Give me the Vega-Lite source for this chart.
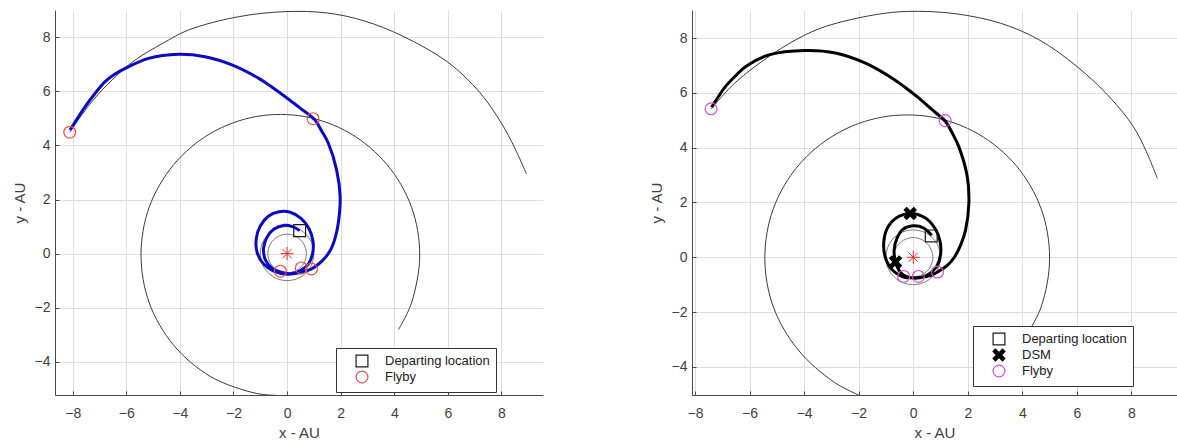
{
  "$schema": "https://vega.github.io/schema/vega-lite/v6.json",
  "padding": {"left": 12, "top": 10, "right": 0, "bottom": 0},
  "background": "#ffffff",
  "spacing": 106,
  "datasets": {
    "leftArcs": [
      {"o": "saturn", "i": 0, "x": -8.11, "y": 4.49}, {"o": "saturn", "i": 1, "x": -7.3, "y": 5.6}, {"o": "saturn", "i": 2, "x": -6.5, "y": 6.45}, {"o": "saturn", "i": 3, "x": -5.67, "y": 7.16}, {"o": "saturn", "i": 4, "x": -4.6, "y": 7.8}, {"o": "saturn", "i": 5, "x": -3.68, "y": 8.27}, {"o": "saturn", "i": 6, "x": -1.82, "y": 8.76}, {"o": "saturn", "i": 7, "x": -0.07, "y": 8.95}, {"o": "saturn", "i": 8, "x": 1.5, "y": 8.9}, {"o": "saturn", "i": 9, "x": 2.9, "y": 8.6}, {"o": "saturn", "i": 10, "x": 4.3, "y": 8.05}, {"o": "saturn", "i": 11, "x": 6.0, "y": 7.08}, {"o": "saturn", "i": 12, "x": 7.2, "y": 5.95}, {"o": "saturn", "i": 13, "x": 8.0, "y": 4.82}, {"o": "saturn", "i": 14, "x": 8.5, "y": 3.9}, {"o": "saturn", "i": 15, "x": 8.93, "y": 2.95},
      {"o": "jupiter", "i": 0, "x": 4.16, "y": -2.81}, {"o": "jupiter", "i": 1, "x": 4.64, "y": -1.83}, {"o": "jupiter", "i": 2, "x": 4.95, "y": -0.05}, {"o": "jupiter", "i": 3, "x": 4.64, "y": 1.73}, {"o": "jupiter", "i": 4, "x": 3.73, "y": 3.29}, {"o": "jupiter", "i": 5, "x": 2.35, "y": 4.45}, {"o": "jupiter", "i": 6, "x": 0.65, "y": 5.07}, {"o": "jupiter", "i": 7, "x": -1.15, "y": 5.07}, {"o": "jupiter", "i": 8, "x": -2.85, "y": 4.45}, {"o": "jupiter", "i": 9, "x": -4.23, "y": 3.29}, {"o": "jupiter", "i": 10, "x": -5.14, "y": 1.73}, {"o": "jupiter", "i": 11, "x": -5.45, "y": -0.05}, {"o": "jupiter", "i": 12, "x": -5.14, "y": -1.83}, {"o": "jupiter", "i": 13, "x": -4.23, "y": -3.39}, {"o": "jupiter", "i": 14, "x": -2.85, "y": -4.55}, {"o": "jupiter", "i": 15, "x": -1.15, "y": -5.17}, {"o": "jupiter", "i": 16, "x": -0.43, "y": -5.24}
    ],
    "rightArcs": [
      {"o": "saturn", "i": 0, "x": -7.41, "y": 5.42}, {"o": "saturn", "i": 1, "x": -6.5, "y": 6.4}, {"o": "saturn", "i": 2, "x": -5.29, "y": 7.33}, {"o": "saturn", "i": 3, "x": -4.2, "y": 8.0}, {"o": "saturn", "i": 4, "x": -3.21, "y": 8.43}, {"o": "saturn", "i": 5, "x": -1.38, "y": 8.86}, {"o": "saturn", "i": 6, "x": -0.16, "y": 8.98}, {"o": "saturn", "i": 7, "x": 1.5, "y": 8.9}, {"o": "saturn", "i": 8, "x": 3.19, "y": 8.55}, {"o": "saturn", "i": 9, "x": 4.6, "y": 7.95}, {"o": "saturn", "i": 10, "x": 6.0, "y": 6.97}, {"o": "saturn", "i": 11, "x": 7.2, "y": 5.85}, {"o": "saturn", "i": 12, "x": 8.07, "y": 4.77}, {"o": "saturn", "i": 13, "x": 8.55, "y": 3.85}, {"o": "saturn", "i": 14, "x": 8.95, "y": 2.88},
      {"o": "jupiter", "i": 0, "x": 4.05, "y": -3.02}, {"o": "jupiter", "i": 1, "x": 4.69, "y": -1.81}, {"o": "jupiter", "i": 2, "x": 5.0, "y": -0.02}, {"o": "jupiter", "i": 3, "x": 4.69, "y": 1.77}, {"o": "jupiter", "i": 4, "x": 3.78, "y": 3.34}, {"o": "jupiter", "i": 5, "x": 2.39, "y": 4.5}, {"o": "jupiter", "i": 6, "x": 0.69, "y": 5.12}, {"o": "jupiter", "i": 7, "x": -1.13, "y": 5.12}, {"o": "jupiter", "i": 8, "x": -2.83, "y": 4.5}, {"o": "jupiter", "i": 9, "x": -4.22, "y": 3.34}, {"o": "jupiter", "i": 10, "x": -5.13, "y": 1.77}, {"o": "jupiter", "i": 11, "x": -5.44, "y": -0.02}, {"o": "jupiter", "i": 12, "x": -5.13, "y": -1.81}, {"o": "jupiter", "i": 13, "x": -4.22, "y": -3.38}, {"o": "jupiter", "i": 14, "x": -2.9, "y": -4.56}, {"o": "jupiter", "i": 15, "x": -1.8, "y": -5.12}
    ],
    "circles": [
      {"o": "earth", "i": 0, "x": 1.0, "y": 0.0}, {"o": "earth", "i": 1, "x": 0.87, "y": 0.5}, {"o": "earth", "i": 2, "x": 0.5, "y": 0.87}, {"o": "earth", "i": 3, "x": 0.0, "y": 1.0}, {"o": "earth", "i": 4, "x": -0.5, "y": 0.87}, {"o": "earth", "i": 5, "x": -0.87, "y": 0.5}, {"o": "earth", "i": 6, "x": -1.0, "y": 0.0}, {"o": "earth", "i": 7, "x": -0.87, "y": -0.5}, {"o": "earth", "i": 8, "x": -0.5, "y": -0.87}, {"o": "earth", "i": 9, "x": 0.0, "y": -1.0}, {"o": "earth", "i": 10, "x": 0.5, "y": -0.87}, {"o": "earth", "i": 11, "x": 0.87, "y": -0.5},
      {"o": "venus", "i": 0, "x": 0.72, "y": 0.0}, {"o": "venus", "i": 1, "x": 0.62, "y": 0.36}, {"o": "venus", "i": 2, "x": 0.36, "y": 0.62}, {"o": "venus", "i": 3, "x": 0.0, "y": 0.72}, {"o": "venus", "i": 4, "x": -0.36, "y": 0.62}, {"o": "venus", "i": 5, "x": -0.62, "y": 0.36}, {"o": "venus", "i": 6, "x": -0.72, "y": 0.0}, {"o": "venus", "i": 7, "x": -0.62, "y": -0.36}, {"o": "venus", "i": 8, "x": -0.36, "y": -0.62}, {"o": "venus", "i": 9, "x": 0.0, "y": -0.72}, {"o": "venus", "i": 10, "x": 0.36, "y": -0.62}, {"o": "venus", "i": 11, "x": 0.62, "y": -0.36}
    ],
    "leftTraj": [
      {"i": 1, "x": 0.47, "y": 0.85}, {"i": 2, "x": 0.2, "y": 1.0}, {"i": 3, "x": -0.15, "y": 1.04}, {"i": 4, "x": -0.5, "y": 0.9}, {"i": 5, "x": -0.75, "y": 0.6}, {"i": 6, "x": -0.88, "y": 0.18}, {"i": 7, "x": -0.8, "y": -0.25}, {"i": 8, "x": -0.55, "y": -0.55}, {"i": 9, "x": -0.25, "y": -0.68}, {"i": 10, "x": 0.15, "y": -0.74}, {"i": 11, "x": 0.5, "y": -0.63}, {"i": 12, "x": 0.8, "y": -0.38}, {"i": 13, "x": 0.95, "y": 0.0}, {"i": 14, "x": 0.97, "y": 0.45}, {"i": 15, "x": 0.82, "y": 0.92}, {"i": 16, "x": 0.52, "y": 1.3}, {"i": 17, "x": 0.12, "y": 1.53}, {"i": 18, "x": -0.3, "y": 1.55}, {"i": 19, "x": -0.7, "y": 1.38}, {"i": 20, "x": -1.0, "y": 1.02}, {"i": 21, "x": -1.15, "y": 0.55}, {"i": 22, "x": -1.12, "y": 0.05}, {"i": 23, "x": -0.88, "y": -0.38}, {"i": 24, "x": -0.5, "y": -0.65}, {"i": 25, "x": 0.0, "y": -0.76}, {"i": 26, "x": 0.5, "y": -0.7}, {"i": 27, "x": 0.91, "y": -0.57}, {"i": 28, "x": 1.3, "y": -0.28}, {"i": 29, "x": 1.62, "y": 0.13}, {"i": 30, "x": 1.8, "y": 0.6}, {"i": 31, "x": 1.91, "y": 1.12}, {"i": 32, "x": 1.98, "y": 2.11}, {"i": 33, "x": 1.85, "y": 3.09}, {"i": 34, "x": 1.54, "y": 4.08}, {"i": 35, "x": 1.3, "y": 4.52}, {"i": 36, "x": 1.04, "y": 4.94}, {"i": 37, "x": 0.49, "y": 5.38}, {"i": 38, "x": -0.07, "y": 5.8}, {"i": 39, "x": -0.57, "y": 6.16}, {"i": 40, "x": -1.07, "y": 6.49}, {"i": 41, "x": -2.06, "y": 6.98}, {"i": 42, "x": -3.06, "y": 7.28}, {"i": 43, "x": -4.06, "y": 7.37}, {"i": 44, "x": -5.17, "y": 7.22}, {"i": 45, "x": -6.04, "y": 6.85}, {"i": 46, "x": -6.42, "y": 6.64}, {"i": 47, "x": -6.79, "y": 6.36}, {"i": 48, "x": -7.16, "y": 5.93}, {"i": 49, "x": -7.54, "y": 5.43}, {"i": 50, "x": -8.1, "y": 4.57}
    ],
    "rightTraj": [
      {"i": 1, "x": 0.68, "y": 0.8}, {"i": 2, "x": 0.38, "y": 1.07}, {"i": 3, "x": 0.0, "y": 1.15}, {"i": 4, "x": -0.38, "y": 1.02}, {"i": 5, "x": -0.6, "y": 0.68}, {"i": 6, "x": -0.7, "y": 0.25}, {"i": 7, "x": -0.65, "y": -0.17}, {"i": 8, "x": -0.52, "y": -0.48}, {"i": 9, "x": -0.35, "y": -0.66}, {"i": 10, "x": 0.05, "y": -0.77}, {"i": 11, "x": 0.5, "y": -0.66}, {"i": 12, "x": 0.85, "y": -0.35}, {"i": 13, "x": 1.0, "y": 0.08}, {"i": 14, "x": 0.98, "y": 0.6}, {"i": 15, "x": 0.8, "y": 1.05}, {"i": 16, "x": 0.42, "y": 1.45}, {"i": 17, "x": -0.11, "y": 1.6}, {"i": 18, "x": -0.6, "y": 1.45}, {"i": 19, "x": -0.95, "y": 1.06}, {"i": 20, "x": -1.08, "y": 0.55}, {"i": 21, "x": -1.03, "y": 0.02}, {"i": 22, "x": -0.78, "y": -0.45}, {"i": 23, "x": -0.35, "y": -0.72}, {"i": 24, "x": 0.19, "y": -0.74}, {"i": 25, "x": 0.6, "y": -0.68}, {"i": 26, "x": 0.89, "y": -0.54}, {"i": 27, "x": 1.25, "y": -0.3}, {"i": 28, "x": 1.52, "y": 0.02}, {"i": 29, "x": 1.76, "y": 0.5}, {"i": 30, "x": 1.92, "y": 1.0}, {"i": 31, "x": 2.04, "y": 1.97}, {"i": 32, "x": 1.98, "y": 2.95}, {"i": 33, "x": 1.67, "y": 4.04}, {"i": 34, "x": 1.44, "y": 4.52}, {"i": 35, "x": 1.18, "y": 4.96}, {"i": 36, "x": 0.7, "y": 5.38}, {"i": 37, "x": 0.21, "y": 5.81}, {"i": 38, "x": -0.28, "y": 6.19}, {"i": 39, "x": -0.77, "y": 6.54}, {"i": 40, "x": -1.75, "y": 7.09}, {"i": 41, "x": -2.85, "y": 7.46}, {"i": 42, "x": -3.95, "y": 7.55}, {"i": 43, "x": -5.29, "y": 7.39}, {"i": 44, "x": -6.14, "y": 6.97}, {"i": 45, "x": -6.51, "y": 6.63}, {"i": 46, "x": -6.88, "y": 6.24}, {"i": 47, "x": -7.14, "y": 5.87}, {"i": 48, "x": -7.39, "y": 5.48}
    ],
    "leftPts": [
      {"m": "Departing location", "x": 0.47, "y": 0.85},
      {"m": "Flyby", "x": -0.25, "y": -0.65}, {"m": "Flyby", "x": 0.53, "y": -0.53}, {"m": "Flyby", "x": 0.91, "y": -0.57}, {"m": "Flyby", "x": 0.97, "y": 4.99}, {"m": "Flyby", "x": -8.11, "y": 4.49}
    ],
    "rightPts": [
      {"m": "Departing location", "x": 0.66, "y": 0.78},
      {"m": "DSM", "x": -0.11, "y": 1.6}, {"m": "DSM", "x": -0.65, "y": -0.17},
      {"m": "Flyby", "x": -7.41, "y": 5.42}, {"m": "Flyby", "x": 1.17, "y": 4.99}, {"m": "Flyby", "x": -0.35, "y": -0.7}, {"m": "Flyby", "x": 0.19, "y": -0.7}, {"m": "Flyby", "x": 0.89, "y": -0.54}
    ],
    "sun": [{"x": 0, "y": 0}]
  },
  "hconcat": [
    {
      "width": 488,
      "height": 385,
      "encoding": {
        "x": {"field": "x", "type": "quantitative", "scale": {"domain": [-8.66, 9.55], "nice": false, "zero": false}, "axis": {"title": "x - AU", "values": [-8, -6, -4, -2, 0, 2, 4, 6, 8]}},
        "y": {"field": "y", "type": "quantitative", "scale": {"domain": [-5.23, 9.01], "nice": false, "zero": false}, "axis": {"title": "y - AU", "values": [-4, -2, 0, 2, 4, 6, 8]}}
      },
      "layer": [
        {"data": {"name": "leftArcs"}, "mark": {"type": "line", "interpolate": "catmull-rom", "color": "#3a3a3a", "strokeWidth": 1, "clip": true}, "encoding": {"detail": {"field": "o"}, "order": {"field": "i", "type": "quantitative"}}},
        {"data": {"name": "circles"}, "mark": {"type": "line", "interpolate": "cardinal-closed", "color": "#7a7a7a", "strokeWidth": 1, "clip": true}, "encoding": {"detail": {"field": "o"}, "order": {"field": "i", "type": "quantitative"}}},
        {"data": {"name": "leftTraj"}, "mark": {"type": "line", "interpolate": "catmull-rom", "color": "#0a0ac0", "strokeWidth": 3, "clip": true}, "encoding": {"order": {"field": "i", "type": "quantitative"}}},
        {"data": {"name": "sun"}, "mark": {"type": "point", "shape": "M-1,0L1,0M0,-1L0,1M-0.7,-0.7L0.7,0.7M-0.7,0.7L0.7,-0.7", "size": 170, "stroke": "#e03030", "strokeWidth": 1, "filled": false, "opacity": 1}},
        {"data": {"name": "leftPts"}, "mark": {"type": "point", "filled": false, "size": 140, "strokeWidth": 1.2, "opacity": 1, "clip": true},
          "encoding": {
            "shape": {"field": "m", "type": "nominal", "scale": {"domain": ["Departing location", "Flyby"], "range": ["square", "circle"]}, "legend": {"title": null, "orient": "none", "legendX": 281, "legendY": 338}},
            "stroke": {"field": "m", "type": "nominal", "scale": {"domain": ["Departing location", "Flyby"], "range": ["#1a1a1a", "#e0524a"]}, "legend": {"title": null, "orient": "none", "legendX": 281, "legendY": 338}}
          }
        }
      ]
    },
    {
      "width": 485,
      "height": 385,
      "encoding": {
        "x": {"field": "x", "type": "quantitative", "scale": {"domain": [-8.11, 9.67], "nice": false, "zero": false}, "axis": {"title": "x - AU", "values": [-8, -6, -4, -2, 0, 2, 4, 6, 8]}},
        "y": {"field": "y", "type": "quantitative", "scale": {"domain": [-5.03, 9.03], "nice": false, "zero": false}, "axis": {"title": "y - AU", "values": [-4, -2, 0, 2, 4, 6, 8]}}
      },
      "layer": [
        {"data": {"name": "rightArcs"}, "mark": {"type": "line", "interpolate": "catmull-rom", "color": "#3a3a3a", "strokeWidth": 1, "clip": true}, "encoding": {"detail": {"field": "o"}, "order": {"field": "i", "type": "quantitative"}}},
        {"data": {"name": "circles"}, "mark": {"type": "line", "interpolate": "cardinal-closed", "color": "#7a7a7a", "strokeWidth": 1, "clip": true}, "encoding": {"detail": {"field": "o"}, "order": {"field": "i", "type": "quantitative"}}},
        {"data": {"name": "rightTraj"}, "mark": {"type": "line", "interpolate": "catmull-rom", "color": "#000000", "strokeWidth": 3, "clip": true}, "encoding": {"order": {"field": "i", "type": "quantitative"}}},
        {"data": {"name": "sun"}, "mark": {"type": "point", "shape": "M-1,0L1,0M0,-1L0,1M-0.7,-0.7L0.7,0.7M-0.7,0.7L0.7,-0.7", "size": 170, "stroke": "#e03030", "strokeWidth": 1, "filled": false, "opacity": 1}},
        {"data": {"name": "rightPts"}, "mark": {"type": "point", "filled": false, "size": 140, "strokeWidth": 1.2, "opacity": 1, "clip": true},
          "encoding": {
            "shape": {"field": "m", "type": "nominal", "scale": {"domain": ["Departing location", "DSM", "Flyby"], "range": ["square", "M-1,-0.6L-0.6,-1L0,-0.4L0.6,-1L1,-0.6L0.4,0L1,0.6L0.6,1L0,0.4L-0.6,1L-1,0.6L-0.4,0Z", "circle"]}, "legend": {"title": null, "orient": "none", "legendX": 281, "legendY": 316}},
            "stroke": {"field": "m", "type": "nominal", "scale": {"domain": ["Departing location", "DSM", "Flyby"], "range": ["#1a1a1a", "#000000", "#d24fd2"]}, "legend": {"title": null, "orient": "none", "legendX": 281, "legendY": 316}},
            "fill": {"field": "m", "type": "nominal", "scale": {"domain": ["Departing location", "DSM", "Flyby"], "range": ["transparent", "#000000", "transparent"]}, "legend": {"title": null, "orient": "none", "legendX": 281, "legendY": 316}}
          }
        }
      ]
    }
  ],
  "resolve": {
    "scale": {"x": "independent", "y": "independent", "shape": "independent", "stroke": "independent", "fill": "independent"},
    "legend": {"shape": "independent", "stroke": "independent", "fill": "independent"}
  },
  "config": {
    "view": {"stroke": null},
    "font": "Liberation Sans",
    "axis": {
      "domainColor": "#4a4a4a", "domainWidth": 1, "tickColor": "#4a4a4a", "tickSize": -4, "tickWidth": 1,
      "gridColor": "#dedede", "gridWidth": 1,
      "labelFont": "Liberation Sans", "labelFontSize": 14, "labelColor": "#404040", "labelFlush": false, "labelOverlap": false,
      "titleFont": "Liberation Sans", "titleFontSize": 15, "titleFontWeight": "normal", "titleColor": "#404040"
    },
    "axisX": {"labelPadding": 15, "titlePadding": 5},
    "axisY": {"labelPadding": 9, "titlePadding": 7},
    "legend": {
      "fillColor": "#ffffff", "strokeColor": "#333333", "padding": 6, "symbolSize": 140, "symbolStrokeWidth": 1.2,
      "symbolOffset": 13, "labelOffset": 16, "rowPadding": -2, "labelFont": "Liberation Sans", "labelFontSize": 13, "labelColor": "#222222", "cornerRadius": 0
    }
  }
}
